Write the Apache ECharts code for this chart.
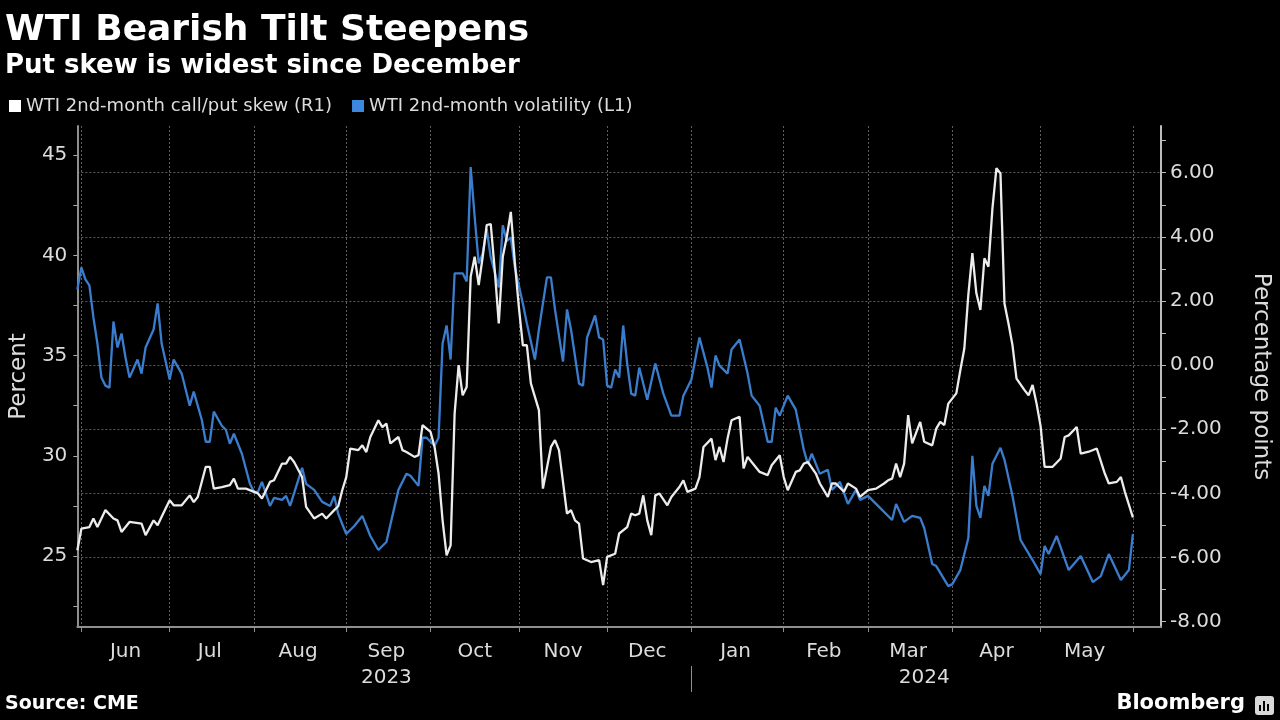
<!DOCTYPE html>
<html>
<head>
<meta charset="utf-8">
<script src="https://cdn.jsdelivr.net/npm/echarts@6.0.0/dist/echarts.min.js"></script>
<style>
html,body{margin:0;padding:0;background:#000;}
#c{width:1280px;height:720px;}
</style>
</head>
<body>
<div id="c"></div>
<script>
// ---------- texts ----------
const titleText = 'WTI Bearish Tilt Steepens';
const subtitleText = 'Put skew is widest since December';
const sourceText = 'Source: CME';
const brandText = 'Bloomberg';
const skewName = 'WTI 2nd-month call/put skew (R1)';
const volName = 'WTI 2nd-month volatility (L1)';
const leftAxisName = 'Percent';
const rightAxisName = 'Percentage points';
const monthNames = ['Jan','Feb','Mar','Apr','May','Jun','Jul','Aug','Sep','Oct','Nov','Dec'];

// ---------- tick values ----------
const leftTickLabels = [25, 30, 35, 40, 45];
const leftTickMarks = [22.5, 25, 27.5, 30, 32.5, 35, 37.5, 40, 42.5, 45];
const rightTickLabels = [-8, -6, -4, -2, 0, 2, 4, 6];
const rightTickMarks = [-8, -7, -6, -5, -4, -3, -2, -1, 0, 1, 2, 3, 4, 5, 6, 7];
const rightGridValues = [-6, -4, -2, 0, 2, 4, 6];

// ---------- x range (business days) ----------
const axisStart = '2023-05-31';
const axisEnd = '2024-06-12';

// ---------- WTI 2nd-month volatility (L1, percent) ----------
const volDates = [
'2023-05-31','2023-06-01','2023-06-02','2023-06-05','2023-06-06','2023-06-07','2023-06-08','2023-06-09','2023-06-12','2023-06-13',
'2023-06-14','2023-06-15','2023-06-16','2023-06-19','2023-06-21','2023-06-22','2023-06-23','2023-06-27','2023-06-28','2023-06-29',
'2023-07-03','2023-07-04','2023-07-06','2023-07-10','2023-07-11','2023-07-13','2023-07-14','2023-07-17','2023-07-18','2023-07-20',
'2023-07-21','2023-07-24','2023-07-25','2023-07-27','2023-07-31','2023-08-01','2023-08-02','2023-08-03','2023-08-07','2023-08-08',
'2023-08-10','2023-08-11','2023-08-14','2023-08-17','2023-08-18','2023-08-22','2023-08-24','2023-08-28','2023-08-29','2023-08-30',
'2023-08-31','2023-09-01','2023-09-05','2023-09-07','2023-09-11','2023-09-13','2023-09-15','2023-09-20','2023-09-22','2023-09-25',
'2023-09-27','2023-09-28','2023-09-29','2023-10-03','2023-10-04','2023-10-05','2023-10-06','2023-10-09','2023-10-10','2023-10-12',
'2023-10-13','2023-10-16','2023-10-17','2023-10-18','2023-10-19','2023-10-20','2023-10-23','2023-10-25','2023-10-26','2023-10-27',
'2023-10-30','2023-10-31','2023-11-02','2023-11-03','2023-11-07','2023-11-08','2023-11-10','2023-11-13','2023-11-14','2023-11-16',
'2023-11-17','2023-11-20','2023-11-22','2023-11-23','2023-11-24','2023-11-28','2023-11-29','2023-11-30','2023-12-01','2023-12-04',
'2023-12-05','2023-12-06','2023-12-07','2023-12-08','2023-12-11','2023-12-12','2023-12-13','2023-12-15','2023-12-19','2023-12-21',
'2023-12-25','2023-12-27','2023-12-28','2024-01-01','2024-01-03','2024-01-05','2024-01-08','2024-01-09','2024-01-10','2024-01-12',
'2024-01-15','2024-01-17','2024-01-19','2024-01-22','2024-01-24','2024-01-26','2024-01-29','2024-01-30','2024-01-31','2024-02-02',
'2024-02-06','2024-02-08','2024-02-09','2024-02-12','2024-02-14','2024-02-16','2024-02-19','2024-02-21','2024-02-23','2024-02-27',
'2024-02-28','2024-03-01','2024-03-06','2024-03-11','2024-03-12','2024-03-14','2024-03-18','2024-03-20','2024-03-21','2024-03-25',
'2024-03-26','2024-03-29','2024-04-01','2024-04-03','2024-04-05','2024-04-08','2024-04-09','2024-04-10','2024-04-11','2024-04-12',
'2024-04-15','2024-04-17','2024-04-18','2024-04-22','2024-04-24','2024-04-29','2024-05-01','2024-05-02','2024-05-03','2024-05-07',
'2024-05-10','2024-05-15','2024-05-20','2024-05-22','2024-05-24','2024-05-29','2024-05-31','2024-06-03'
];
const volValues = [
38.3,39.4,38.8,38.5,36.9,35.6,33.9,33.5,33.4,36.7,
35.4,36.1,34.9,33.9,34.8,34.1,35.4,36.3,37.6,35.6,
33.8,34.8,34.1,32.5,33.2,31.8,30.7,30.7,32.2,31.5,
31.3,30.6,31.1,30.1,28.6,28.2,28.2,28.7,27.5,27.9,
27.8,28.0,27.5,29.4,28.6,28.3,27.7,27.5,28.0,27.1,
26.6,26.1,26.5,27.0,26.0,25.3,25.7,28.3,29.1,29.0,
28.5,30.9,30.9,30.5,30.9,35.6,36.5,34.8,39.1,39.1,
38.7,44.4,41.9,39.6,40.1,41.3,39.9,38.4,41.5,40.7,
40.9,39.4,37.6,36.6,34.8,36.3,38.9,38.9,37.3,34.7,
37.3,36.3,33.6,33.5,35.9,37.0,35.9,35.8,33.5,33.4,
34.3,33.9,36.5,34.6,33.1,33.0,34.4,32.8,34.6,33.1,
32.0,32.0,33.0,33.8,35.9,34.4,33.4,35.0,34.5,34.1,
35.3,35.8,34.1,33.0,32.5,30.7,30.7,32.4,32.0,33.0,
32.3,30.3,29.6,30.1,29.1,29.3,28.3,28.7,27.6,28.3,
27.8,28.0,27.4,26.8,27.6,26.7,27.0,26.9,26.4,24.6,
24.5,23.5,23.6,24.3,25.9,30.0,27.5,26.9,28.5,28.0,
29.6,30.4,29.8,28.0,25.8,24.8,24.1,25.5,25.1,26.0,
24.3,25.0,23.7,24.0,25.1,23.8,24.3,26.1
];

// ---------- WTI 2nd-month call/put skew (R1, percentage points) ----------
const skewDates = [
'2023-05-31','2023-06-01','2023-06-05','2023-06-06','2023-06-07','2023-06-09','2023-06-13','2023-06-14','2023-06-15','2023-06-19',
'2023-06-22','2023-06-23','2023-06-27','2023-06-28','2023-06-29','2023-07-03','2023-07-04','2023-07-06','2023-07-10','2023-07-11',
'2023-07-12','2023-07-14','2023-07-17','2023-07-18','2023-07-20','2023-07-24','2023-07-25','2023-07-26','2023-07-28','2023-08-02',
'2023-08-03','2023-08-07','2023-08-08','2023-08-10','2023-08-11','2023-08-14','2023-08-15','2023-08-17','2023-08-18','2023-08-22',
'2023-08-24','2023-08-25','2023-08-29','2023-08-30','2023-08-31','2023-09-01','2023-09-04','2023-09-06','2023-09-07','2023-09-08',
'2023-09-11','2023-09-13','2023-09-14','2023-09-15','2023-09-18','2023-09-20','2023-09-21','2023-09-22','2023-09-26','2023-09-27',
'2023-09-28','2023-10-02','2023-10-03','2023-10-04','2023-10-05','2023-10-06','2023-10-09','2023-10-10','2023-10-11','2023-10-12',
'2023-10-13','2023-10-16','2023-10-17','2023-10-18','2023-10-19','2023-10-20','2023-10-23','2023-10-24','2023-10-25','2023-10-26',
'2023-10-27','2023-10-30','2023-10-31','2023-11-01','2023-11-02','2023-11-03','2023-11-06','2023-11-08','2023-11-09','2023-11-13',
'2023-11-14','2023-11-15','2023-11-17','2023-11-20','2023-11-21','2023-11-22','2023-11-23','2023-11-27','2023-11-29','2023-11-30',
'2023-12-01','2023-12-05','2023-12-06','2023-12-08','2023-12-11','2023-12-12','2023-12-13','2023-12-14','2023-12-15','2023-12-18',
'2023-12-19','2023-12-20','2023-12-22','2023-12-25','2023-12-27','2023-12-28','2023-12-29','2024-01-02','2024-01-03','2024-01-04',
'2024-01-08','2024-01-09','2024-01-10','2024-01-11','2024-01-12','2024-01-15','2024-01-17','2024-01-18','2024-01-19','2024-01-22',
'2024-01-24','2024-01-26','2024-01-29','2024-01-31','2024-02-01','2024-02-02','2024-02-06','2024-02-07','2024-02-08','2024-02-09',
'2024-02-13','2024-02-14','2024-02-16','2024-02-19','2024-02-20','2024-02-22','2024-02-23','2024-02-27','2024-02-28','2024-03-01',
'2024-03-05','2024-03-07','2024-03-08','2024-03-11','2024-03-12','2024-03-13','2024-03-14','2024-03-15','2024-03-18','2024-03-20',
'2024-03-21','2024-03-25','2024-03-26','2024-03-27','2024-03-28','2024-03-29','2024-04-02','2024-04-03','2024-04-04','2024-04-05',
'2024-04-08','2024-04-09','2024-04-10','2024-04-11','2024-04-12','2024-04-15','2024-04-16','2024-04-17','2024-04-18','2024-04-19',
'2024-04-22','2024-04-23','2024-04-25','2024-04-26','2024-04-29','2024-04-30','2024-05-01','2024-05-02','2024-05-06','2024-05-08',
'2024-05-09','2024-05-10','2024-05-14','2024-05-15','2024-05-17','2024-05-21','2024-05-23','2024-05-24','2024-05-28','2024-05-29',
'2024-05-30','2024-06-03'
];
const skewValues = [
-5.77,-5.10,-5.05,-4.78,-5.05,-4.52,-4.78,-4.84,-5.20,-4.89,
-4.94,-5.30,-4.84,-4.99,-4.73,-4.21,-4.37,-4.37,-4.06,-4.27,
-4.11,-3.17,-3.17,-3.85,-3.80,-3.74,-3.54,-3.85,-3.85,-4.00,
-4.16,-3.64,-3.59,-3.07,-3.07,-2.86,-3.02,-3.49,-4.42,-4.78,
-4.63,-4.78,-4.52,-4.40,-3.90,-3.49,-2.60,-2.65,-2.50,-2.71,
-2.24,-1.72,-1.93,-1.82,-2.44,-2.24,-2.65,-2.71,-2.86,-2.81,
-1.87,-2.08,-2.55,-3.38,-4.84,-5.93,-5.62,-1.51,0.00,-0.94,
-0.68,2.76,3.38,2.50,3.38,4.37,4.40,2.96,1.30,3.38,
4.00,4.78,3.22,1.82,0.62,0.62,-0.57,-1.40,-3.85,-2.55,
-2.34,-2.65,-4.63,-4.52,-4.84,-4.94,-6.03,-6.14,-6.08,-6.86,
-5.98,-5.88,-5.25,-5.05,-4.63,-4.68,-4.63,-4.06,-4.84,-5.30,
-4.06,-4.00,-4.37,-4.11,-3.80,-3.59,-3.95,-3.85,-3.49,-2.55,
-2.29,-2.96,-2.55,-3.02,-2.29,-1.72,-1.61,-3.22,-2.86,-3.02,
-3.33,-3.43,-3.12,-2.81,-3.49,-3.90,-3.33,-3.28,-3.07,-3.02,
-3.38,-3.69,-4.11,-3.69,-3.69,-3.95,-3.69,-3.85,-4.11,-3.90,
-3.85,-3.69,-3.59,-3.54,-3.07,-3.49,-3.07,-1.56,-2.44,-1.77,
-2.39,-2.50,-1.98,-1.77,-1.87,-1.20,-0.88,-0.16,0.52,2.20,
3.49,2.24,1.72,3.33,3.07,4.89,6.14,5.98,1.92,1.30,
0.62,-0.42,-0.78,-0.94,-0.62,-1.20,-1.90,-3.17,-3.17,-2.91,
-2.24,-2.19,-1.93,-2.76,-2.70,-2.60,-3.38,-3.69,-3.64,-3.49,
-3.95,-4.75
];

// ---------- business-day categories ----------
function weekdays(start, end) {
  const out = [];
  let t = Date.parse(start + 'T00:00:00Z');
  const e = Date.parse(end + 'T00:00:00Z');
  while (t <= e) {
    const d = new Date(t);
    const w = d.getUTCDay();
    if (w !== 0 && w !== 6) out.push(d.toISOString().slice(0, 10));
    t += 86400000;
  }
  return out;
}
const cats = weekdays(axisStart, axisEnd);

// month boundaries / label slots derived from the categories
const monthStarts = [];
for (let i = 1; i < cats.length; i++) {
  if (cats[i].slice(5, 7) !== cats[i - 1].slice(5, 7)) monthStarts.push(i);
}
const monthStartSet = new Set(monthStarts);
const monthLabelIdx = new Set();
for (let k = 0; k + 1 < monthStarts.length; k++) {
  monthLabelIdx.add(Math.floor((monthStarts[k] + monthStarts[k + 1]) / 2));
}
const yearStartIdx = cats.findIndex(c => c.slice(0, 4) === '2024');
const yearLabelIdx = new Map();
yearLabelIdx.set(Math.round((1 + yearStartIdx) / 2), '2023');
yearLabelIdx.set(Math.floor((yearStartIdx + cats.length - 1) / 2), '2024');

const volData = volDates.map((d, i) => [d, volValues[i]]);
const skewData = skewDates.map((d, i) => [d, skewValues[i]]);

// ---------- styling ----------
const FONT = 'DejaVu Sans';
const TXT = '#dcdcdc';
const GRIDC = '#5e5e5e';
const AXISC = '#8f8f8f';

// axis extents matched to the reference's pixel scale
const leftMin = 21.46, leftMax = 46.45;
const rightMin = -8.165, rightMax = 7.457;

const chart = echarts.init(document.getElementById('c'), null, { renderer: 'canvas', width: 1280, height: 720 });

const option = {
  backgroundColor: '#000000',
  animation: false,
  title: {
    text: titleText,
    subtext: subtitleText,
    left: 0, top: 6, itemGap: 0,
    textStyle: { color: '#ffffff', fontFamily: FONT, fontWeight: 'bold', fontSize: 36, lineHeight: 40 },
    subtextStyle: { color: '#ffffff', fontFamily: FONT, fontWeight: 'bold', fontSize: 26, lineHeight: 30 }
  },
  legend: {
    left: 4, top: 91,
    icon: 'rect', itemWidth: 12, itemHeight: 12, itemGap: 20,
    selectedMode: false,
    textStyle: { color: TXT, fontFamily: FONT, fontSize: 18, lineHeight: 20 },
    data: [skewName, volName]
  },
  grid: { left: 73, right: 117, top: 126, bottom: 93, containLabel: false },
  xAxis: [
    {
      type: 'category', data: cats, boundaryGap: false, position: 'bottom',
      axisLine: { show: true, onZero: false, lineStyle: { color: AXISC, width: 2 } },
      axisTick: { show: true, interval: (i) => monthStartSet.has(i), length: 5, lineStyle: { color: AXISC, width: 1 } },
      axisLabel: {
        interval: (i) => monthLabelIdx.has(i),
        formatter: (v) => monthNames[parseInt(v.slice(5, 7), 10) - 1],
        color: TXT, fontFamily: FONT, fontSize: 20, margin: 15
      },
      splitLine: { show: true, interval: (i) => monthStartSet.has(i), lineStyle: { color: GRIDC, width: 1, type: [2, 2] } }
    },
    {
      type: 'category', data: cats, boundaryGap: false, position: 'bottom', offset: 39,
      axisLine: { show: false, onZero: false },
      axisTick: { show: true, interval: (i) => i === yearStartIdx, length: 26, lineStyle: { color: AXISC, width: 1 } },
      axisLabel: {
        interval: (i) => yearLabelIdx.has(i),
        formatter: (v, i) => yearLabelIdx.get(i) || '',
        color: TXT, fontFamily: FONT, fontSize: 20, margin: 2
      },
      splitLine: { show: false }
    }
  ],
  yAxis: [
    {
      type: 'value', position: 'left', min: leftMin, max: leftMax,
      axisLine: { show: true, onZero: false, lineStyle: { color: AXISC, width: 2 } },
      axisTick: { show: true, customValues: leftTickMarks, length: 4, lineStyle: { color: '#aaaaaa' } },
      axisLabel: { customValues: leftTickLabels, color: TXT, fontFamily: FONT, fontSize: 20, margin: 10 },
      splitLine: { show: false },
      name: leftAxisName, nameLocation: 'middle', nameRotate: 90, nameGap: 44,
      nameTextStyle: { color: TXT, fontFamily: FONT, fontSize: 23 }
    },
    {
      type: 'value', position: 'right', min: rightMin, max: rightMax,
      axisLine: { show: true, onZero: false, lineStyle: { color: '#bdbdbd', width: 2 } },
      axisTick: { show: true, customValues: rightTickMarks, length: 5, lineStyle: { color: '#bdbdbd' } },
      axisLabel: { customValues: rightTickLabels, formatter: (v) => Number(v).toFixed(2), color: TXT, fontFamily: FONT, fontSize: 20, margin: 9 },
      splitLine: { show: false },
      name: rightAxisName, nameLocation: 'middle', nameRotate: -90, nameGap: 88,
      nameTextStyle: { color: TXT, fontFamily: FONT, fontSize: 23 }
    },
    {
      type: 'value', position: 'right', min: rightMin, max: rightMax,
      axisLine: { show: false, onZero: false },
      axisTick: { show: false, customValues: rightGridValues },
      axisLabel: { show: false },
      splitLine: { show: true, lineStyle: { color: GRIDC, width: 1, type: [2, 2] } }
    }
  ],
  series: [
    {
      name: skewName, type: 'line', xAxisIndex: 0, yAxisIndex: 1,
      data: skewData, symbol: 'none', showSymbol: false,
      lineStyle: { color: '#ececec', width: 2.3 }, itemStyle: { color: '#ffffff' }, z: 4
    },
    {
      name: volName, type: 'line', xAxisIndex: 0, yAxisIndex: 0,
      data: volData, symbol: 'none', showSymbol: false,
      lineStyle: { color: '#3b7dcd', width: 2.3 }, itemStyle: { color: '#3d88df' }, z: 3
    }
  ],
  graphic: [
    { type: 'text', left: 5, top: 695, style: { text: sourceText, fill: '#ffffff', font: 'bold 19px "DejaVu Sans"' } },
    { type: 'text', right: 35, top: 693, style: { text: brandText, fill: '#ffffff', font: 'bold 21px "DejaVu Sans"' } },
    { type: 'group', right: 6, top: 696, children: [
      { type: 'rect', shape: { x: 0, y: 0, width: 19, height: 19, r: 3 }, style: { fill: '#d8d8d8' } },
      { type: 'rect', shape: { x: 4, y: 9, width: 2, height: 6 }, style: { fill: '#000' } },
      { type: 'rect', shape: { x: 8, y: 5, width: 2, height: 10 }, style: { fill: '#000' } },
      { type: 'rect', shape: { x: 12, y: 8, width: 2, height: 7 }, style: { fill: '#000' } }
    ] }
  ]
};
chart.setOption(option);
</script>
</body>
</html>
